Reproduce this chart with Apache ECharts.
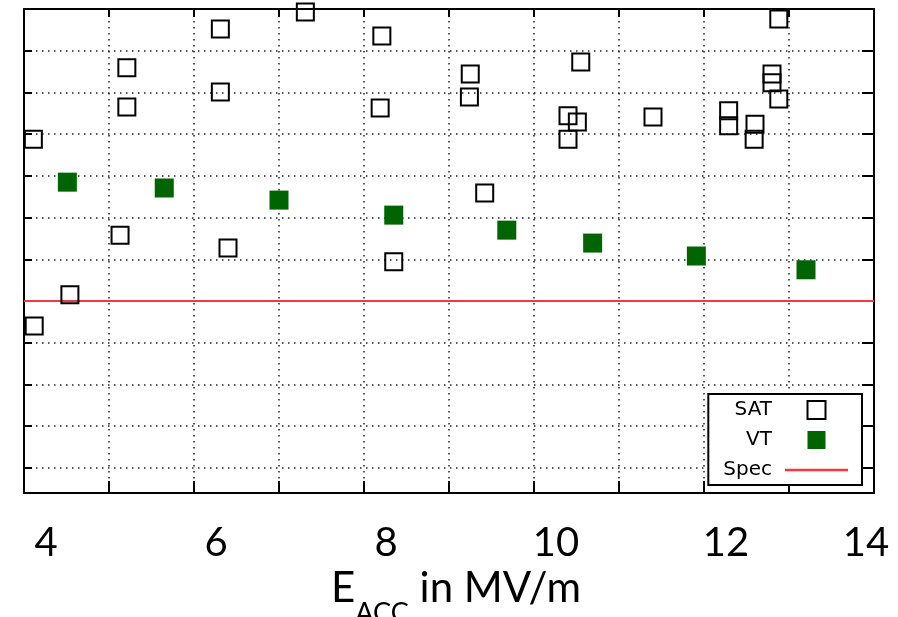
<!DOCTYPE html>
<html>
<head>
<meta charset="utf-8">
<script src="https://cdn.jsdelivr.net/npm/echarts@6.0.0/dist/echarts.min.js"></script>
<style>
  html, body { margin: 0; padding: 0; background: #fff; }
  #main { width: 898px; height: 617px; }
</style>
</head>
<body>
<div id="main"></div>
<script>
// values (y has no labels: arbitrary units, one per grid line)
var satPoints = [
    [7.31, 11.93], [6.31, 11.52], [8.21, 11.35], [5.21, 10.59], [6.31, 10.01],
    [5.21, 9.65], [8.19, 9.63], [4.11, 8.88], [5.13, 6.58], [6.40, 6.27],
    [8.35, 5.94], [4.54, 5.15], [4.12, 4.40], [12.88, 11.76], [9.25, 10.44],
    [9.24, 9.89], [10.55, 10.73], [10.40, 9.44], [10.51, 9.29], [10.40, 8.88],
    [11.40, 9.41], [12.29, 9.56], [12.29, 9.20], [12.60, 9.24], [12.59, 8.88],
    [12.80, 10.44], [12.80, 10.23], [12.88, 9.84], [9.42, 7.59]
];
var vtPoints = [
    [4.51, 7.85], [5.65, 7.71], [7.00, 7.42], [8.35, 7.06],
    [9.68, 6.70], [10.69, 6.39], [11.91, 6.08], [13.20, 5.75]
];
var specLine = [[4, 5], [14, 5]];
var yTicks = [1, 2, 3, 4, 5, 6, 7, 8, 9, 10, 11];
var xRange = [4, 14];
var yRange = [0.4, 12];

var myChart = echarts.init(document.getElementById('main'));

var labelFont = 'Lato';
var legendFont = '"DejaVu Sans", Verdana, sans-serif';
var green = '#006400';
var red = '#f03c3c';
var gridDots = { show: true, lineStyle: { color: '#222', width: 1.5, type: [1.5, 4.5] } };
var frameLine = { show: true, onZero: false, lineStyle: { color: '#000', width: 2 } };
var squareIcon = 'path://M0,0H10V10H0Z';
var flatIcon = 'path://M0,0H63V2.5H0Z';

var option = {
    animation: false,
    backgroundColor: '#fff',
    grid: { left: 24, right: 24, top: 9, bottom: 124, outerBoundsMode: 'none', containLabel: false },
    xAxis: [{
        type: 'value',
        min: xRange[0], max: xRange[1], interval: 1,
        axisLine: frameLine,
        axisTick: { inside: true, length: 12, lineStyle: { color: '#000', width: 2 } },
        splitLine: gridDots,
        axisLabel: {
            margin: 30,
            formatter: function (v) {
                if (v % 2) return '';
                return v === 14 ? '{b|' + v + '}' : '{a|' + v + '}';
            },
            rich: {
                a: { fontFamily: labelFont, fontSize: 40, color: '#000', padding: [0, 0, 0, 44] },
                b: { fontFamily: labelFont, fontSize: 40, color: '#000', padding: [0, 16, 0, 0] }
            }
        },
        name: '{e|E}{s|ACC}{e| in MV/m}',
        nameLocation: 'middle',
        nameGap: 56,
        nameTextStyle: {
            padding: [0, 0, 0, 14],
            rich: {
                e: { fontFamily: labelFont, fontSize: 42, color: '#000' },
                s: { fontFamily: labelFont, fontSize: 27, color: '#000', padding: [48, 0, 0, 0] }
            }
        }
    }, {
        type: 'value', position: 'top',
        min: xRange[0], max: xRange[1], interval: 1,
        axisLine: frameLine,
        axisTick: { inside: true, length: 8, lineStyle: { color: '#000', width: 2 } },
        axisLabel: { show: false },
        splitLine: { show: false }
    }],
    yAxis: [{
        type: 'value',
        min: yRange[0], max: yRange[1],
        axisLine: frameLine,
        axisTick: { inside: true, length: 8, customValues: yTicks, lineStyle: { color: '#000', width: 2 } },
        axisLabel: { show: false },
        splitLine: gridDots
    }, {
        type: 'value', position: 'right',
        min: yRange[0], max: yRange[1],
        axisLine: frameLine,
        axisTick: { inside: true, length: 12, customValues: yTicks, lineStyle: { color: '#000', width: 2 } },
        axisLabel: { show: false },
        splitLine: { show: false }
    }],
    legend: {
        orient: 'vertical',
        right: 36, top: 394,
        align: 'right',
        itemWidth: 63, itemHeight: 18, itemGap: 10,
        padding: [6, 14, 5, 15],
        backgroundColor: '#fff',
        borderColor: '#000', borderWidth: 2,
        symbolKeepAspect: true,
        formatter: '{t|{name}}',
        textStyle: {
            fontFamily: legendFont, fontSize: 20, color: '#000',
            rich: { t: { fontFamily: legendFont, fontSize: 20, color: '#000', padding: [0, 8, 0, 0] } }
        },
        data: [
            { name: 'SAT', icon: squareIcon, itemStyle: { color: '#fff', borderColor: '#000', borderWidth: 2, opacity: 1 } },
            { name: 'VT', icon: squareIcon, itemStyle: { color: green, borderWidth: 0, opacity: 1 } },
            { name: 'Spec', icon: flatIcon, itemStyle: { color: red, borderWidth: 0, opacity: 1 } }
        ]
    },
    series: [{
        name: 'Spec', type: 'line', data: specLine,
        symbol: 'none', silent: true, z: 3,
        itemStyle: { color: red },
        lineStyle: { color: red, width: 2 }
    }, {
        name: 'SAT', type: 'scatter', data: satPoints,
        symbol: 'rect', symbolSize: 17, z: 4,
        itemStyle: { color: 'rgba(0,0,0,0)', borderColor: '#000', borderWidth: 2, opacity: 1 },
        emphasis: { disabled: true }
    }, {
        name: 'VT', type: 'scatter', data: vtPoints,
        symbol: 'rect', symbolSize: 19, z: 4,
        itemStyle: { color: green, opacity: 1 },
        emphasis: { disabled: true }
    }]
};

myChart.setOption(option);
</script>
</body>
</html>
